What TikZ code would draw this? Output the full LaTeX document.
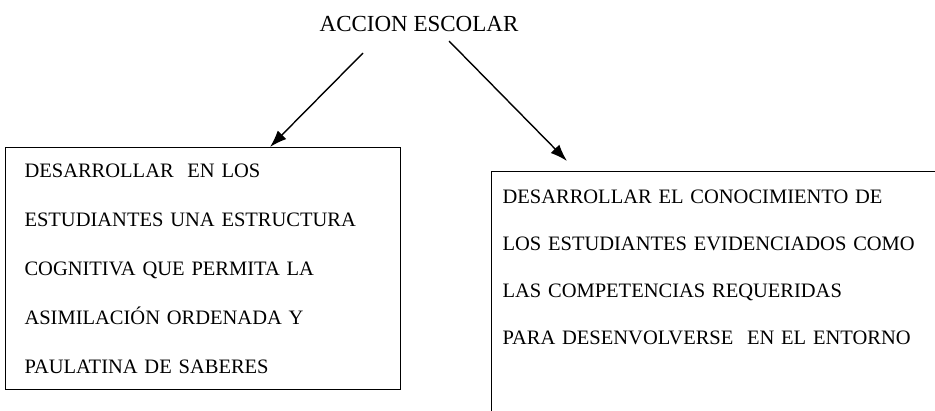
\documentclass[tikz,border=0pt]{standalone}
\usepackage{fontspec}
\setmainfont{Liberation Serif}
\usetikzlibrary{arrows.meta}
\begin{document}
\begin{tikzpicture}[x=1pt,y=-1pt,
  boxstyle/.style={draw, line width=1.1pt, anchor=north west, align=left},
  arr/.style={line width=1.4pt, -{Latex[length=17pt,width=12pt]}}]
\useasboundingbox (0,0) rectangle (935,410);
\clip (0,0) rectangle (935,410);
\node[font=\fontsize{23}{27}\selectfont, inner sep=0pt] (title) at (419,24) {ACCION ESCOLAR};
\node[boxstyle, font=\fontsize{20.5}{49}\selectfont, text width=357pt, inner xsep=19pt, inner ysep=16pt] (lbox) at (5,147)
  {DESARROLLAR\ \ EN LOS\\ESTUDIANTES UNA ESTRUCTURA\\COGNITIVA QUE PERMITA LA\\ASIMILACIÓN ORDENADA Y\\PAULATINA DE SABERES};
\node[boxstyle, font=\fontsize{20.5}{47}\selectfont, text width=438pt, inner xsep=11pt, inner ysep=18pt, text depth=230pt] (rbox) at (491,171)
  {DESARROLLAR EL CONOCIMIENTO DE\\LOS ESTUDIANTES EVIDENCIADOS COMO\\LAS COMPETENCIAS REQUERIDAS\\PARA DESENVOLVERSE\ \ EN EL ENTORNO};
\coordinate (s1) at (363,53);
\coordinate (s2) at (449,41);
\draw[arr] (s1) -- ([xshift=265pt]lbox.north west);
\draw[arr] (s2) -- ([xshift=76pt,yshift=10pt]rbox.north west);
\end{tikzpicture}
\end{document}
